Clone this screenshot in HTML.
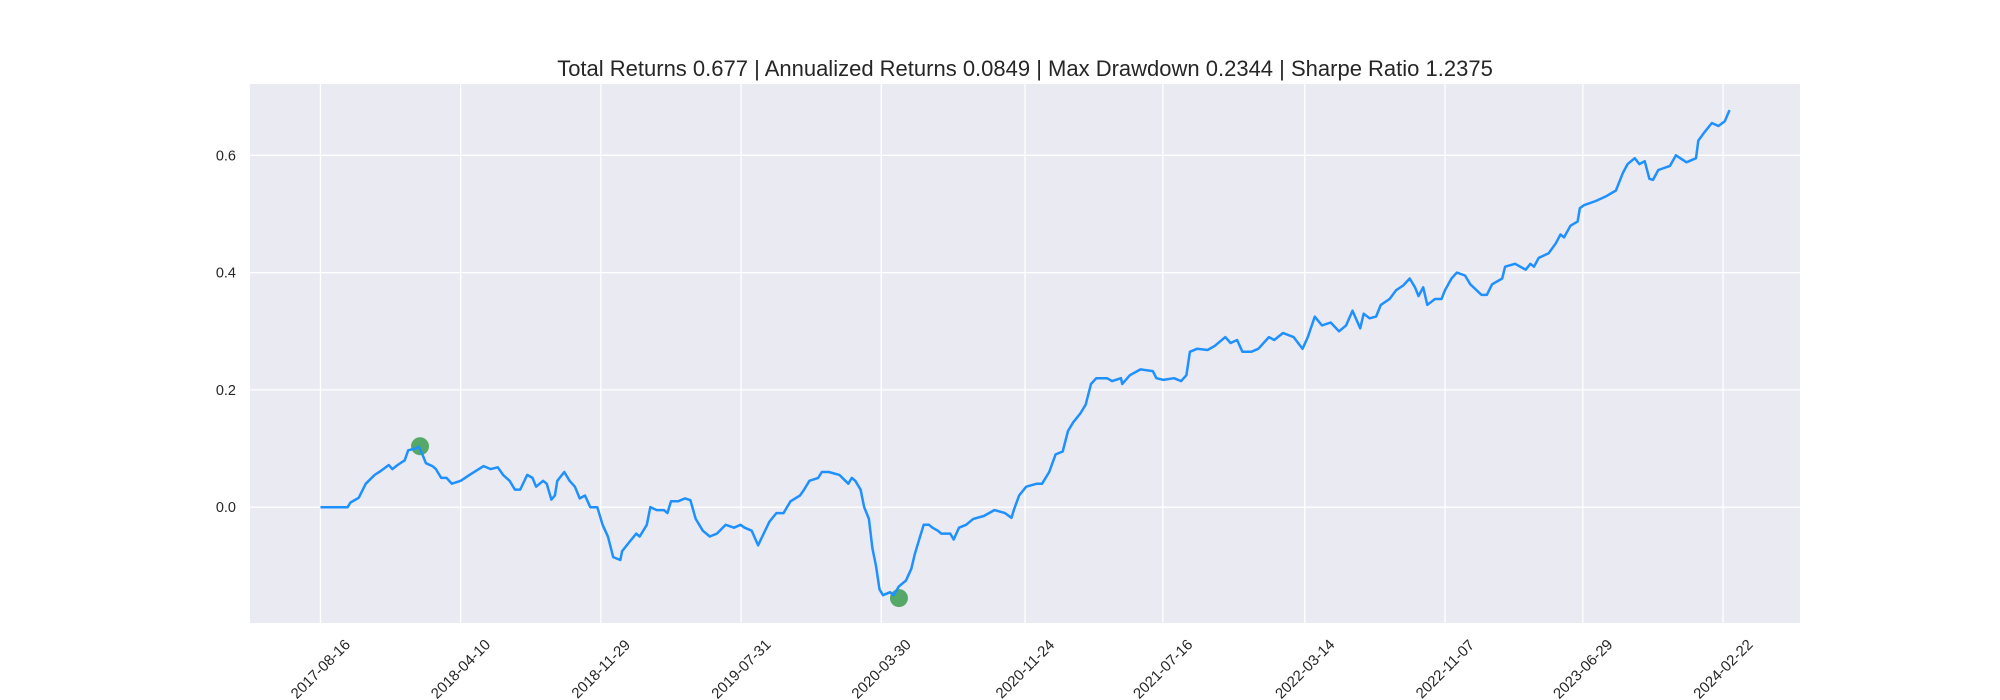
<!DOCTYPE html>
<html><head><meta charset="utf-8"><style>
html,body{margin:0;padding:0;background:#fff;}
svg{display:block;font-family:"Liberation Sans",Arial,sans-serif;}
</style></head><body>
<svg id="chart" width="2000" height="700" viewBox="0 0 2000 700" xmlns="http://www.w3.org/2000/svg">
<rect x="0" y="0" width="2000" height="700" fill="#ffffff"/>
<rect x="250" y="84" width="1550" height="539" fill="#EAEAF2"/>
<g id="grid"></g>
<g id="markers"></g>
<g id="series"></g>
<g id="yticks"></g>
<g id="xticks"></g>
<text x="1025" y="76" text-anchor="middle" font-size="22" fill="#262626">Total Returns 0.677 | Annualized Returns 0.0849 | Max Drawdown 0.2344 | Sharpe Ratio 1.2375</text>
</svg>
<script>
const days = [0,46,51,65,77,92,104,116,122,131,143,149,161,167,173,179,190,196,205,214,223,238,253,277,289,301,310,321,330,339,351,360,366,378,384,392,398,402,414,423,432,440,449,458,470,479,488,497,509,512,524,536,542,554,560,571,583,589,595,607,619,628,637,649,661,673,688,702,713,720,732,743,750,762,774,786,798,814,
821,830,845,851,863,881,896,902,908,917,923,931,937,943,949,955,967,973,982,994,1003,1009,1018,1024,1033,1039,1048,1054,1069,1075,1084,1096,1108,1126,1144,1162,1173,1177,1186,1198,1216,1225,1237,1248,1260,1269,1278,1290,1299,1308,1317,1335,1344,1359,1361,1374,1392,1413,1419,1431,1449,1461,1470,1476,1488,1506,1518,1536,1545,1556,1565,1580,1592,1610,1619,1634,1652,1667,1676,1688,1700,1715,1729,
1741,1752,1765,1771,1781,1792,1800,1815,1826,1838,1849,1858,1864,1872,1879,1892,1903,1909,1920,1929,1943,1952,1971,1980,1989,2006,2011,2028,2046,2054,2060,2068,2085,2097,2105,2111,2122,2134,2138,2145,2165,2182,2199,2211,2219,2231,2239,2248,2256,2262,2271,2291,2301,2319,2335,2339,2350,2362,2373,2384,2392];
const returns = [0,0,0.008,0.016,0.04,0.055,0.063,0.072,0.065,0.072,0.08,0.097,0.1,0.103,0.09,0.075,0.07,0.065,0.05,0.05,0.04,0.045,0.055,0.07,0.065,0.068,0.055,0.045,0.03,0.03,0.055,0.05,0.035,0.045,0.04,0.013,0.02,0.045,0.06,0.045,0.035,0.015,0.02,0,0,-0.03,-0.05,-0.085,-0.09,-0.075,-0.06,-0.045,-0.05,-0.03,0,-0.005,-0.005,-0.01,0.01,0.01,0.015,0.012,-0.02,-0.04,-0.05,-0.045,-0.03,-0.035,-0.03,-0.035,-0.04,-0.065,-0.05,-0.025,-0.01,-0.01,0.01,0.02,
0.03,0.045,0.05,0.06,0.06,0.055,0.04,0.05,0.045,0.03,0,-0.02,-0.07,-0.1,-0.14,-0.15,-0.145,-0.15,-0.135,-0.125,-0.105,-0.08,-0.05,-0.03,-0.03,-0.035,-0.04,-0.045,-0.045,-0.055,-0.035,-0.03,-0.02,-0.015,-0.005,-0.01,-0.018,-0.005,0.02,0.035,0.04,0.04,0.06,0.09,0.095,0.13,0.145,0.16,0.175,0.21,0.22,0.22,0.215,0.22,0.21,0.225,0.235,0.232,0.22,0.217,0.22,0.215,0.225,0.265,0.27,0.268,0.275,0.29,0.28,0.285,0.265,0.265,0.27,0.29,0.285,0.297,0.29,0.27,0.29,0.325,0.31,0.315,0.3,
0.31,0.335,0.305,0.33,0.322,0.325,0.345,0.355,0.37,0.378,0.39,0.375,0.36,0.375,0.345,0.355,0.355,0.37,0.39,0.4,0.395,0.38,0.362,0.362,0.38,0.39,0.41,0.415,0.405,0.415,0.41,0.425,0.433,0.45,0.465,0.46,0.48,0.487,0.51,0.515,0.522,0.53,0.54,0.57,0.585,0.595,0.585,0.59,0.56,0.558,0.575,0.582,0.6,0.588,0.595,0.625,0.64,0.655,0.65,0.658,0.677];
const markerDays = [169, 982];
const markerValues = [0.104, -0.155];
const yTickValues = [0.0, 0.2, 0.4, 0.6];
const yTickLabels = ["0.0", "0.2", "0.4", "0.6"];
const xTickDays = [0, 238, 476, 714, 952, 1196, 1430, 1671, 1909, 2143, 2381];
const xTickLabels = ["2017-08-16","2018-04-10","2018-11-29","2019-07-31","2020-03-30","2020-11-24","2021-07-16","2022-03-14","2022-11-07","2023-06-29","2024-02-22"];

const NS = "http://www.w3.org/2000/svg";
const L = 250, R = 1800, T = 84, B = 623;
const dMin = 0, dMax = days[days.length - 1], dPad = (dMax - dMin) * 0.05;
const xScale = d => L + (d - (dMin - dPad)) / ((dMax + dPad) - (dMin - dPad)) * (R - L);
const yScale = v => 507.2 - v * 586.5;

function mk(tag, attrs, parent) {
  const e = document.createElementNS(NS, tag);
  for (const k in attrs) e.setAttribute(k, attrs[k]);
  parent.appendChild(e);
  return e;
}
const grid = document.getElementById('grid');
const yt = document.getElementById('yticks');
const xt = document.getElementById('xticks');
yTickValues.forEach((v, i) => {
  const y = yScale(v);
  const g = mk('line', {x1: L, x2: R, y1: y, y2: y, stroke: '#fff', 'stroke-width': 1.3}, grid);
  
  
  const t = mk('text', {x: 236, y: y + 5, 'text-anchor': 'end', 'font-size': 14.5, fill: '#262626'}, yt);
  t.textContent = yTickLabels[i];
  
  
});
xTickDays.forEach((d, i) => {
  const x = xScale(d);
  const g = mk('line', {x1: x, x2: x, y1: T, y2: B, stroke: '#fff', 'stroke-width': 1.3}, grid);
  
  
  const t = mk('text', {x: x, y: 674, 'text-anchor': 'middle', 'font-size': 15, fill: '#262626', transform: 'rotate(-45 ' + x + ' 669)'}, xt);
  t.textContent = xTickLabels[i];
  
  
});
const mg = document.getElementById('markers');
markerDays.forEach((d, i) => {
  const c = mk('circle', {cx: xScale(d), cy: yScale(markerValues[i]), r: 9, fill: '#55A868'}, mg);
  
  
});
const pts = days.map((d, i) => xScale(d).toFixed(1) + ',' + yScale(returns[i]).toFixed(1)).join(' ');
const line = mk('polyline', {points: pts, fill: 'none', stroke: '#1E90FF', 'stroke-width': 2.5, 'stroke-linejoin': 'round'}, document.getElementById('series'));


</script>
</body></html>
